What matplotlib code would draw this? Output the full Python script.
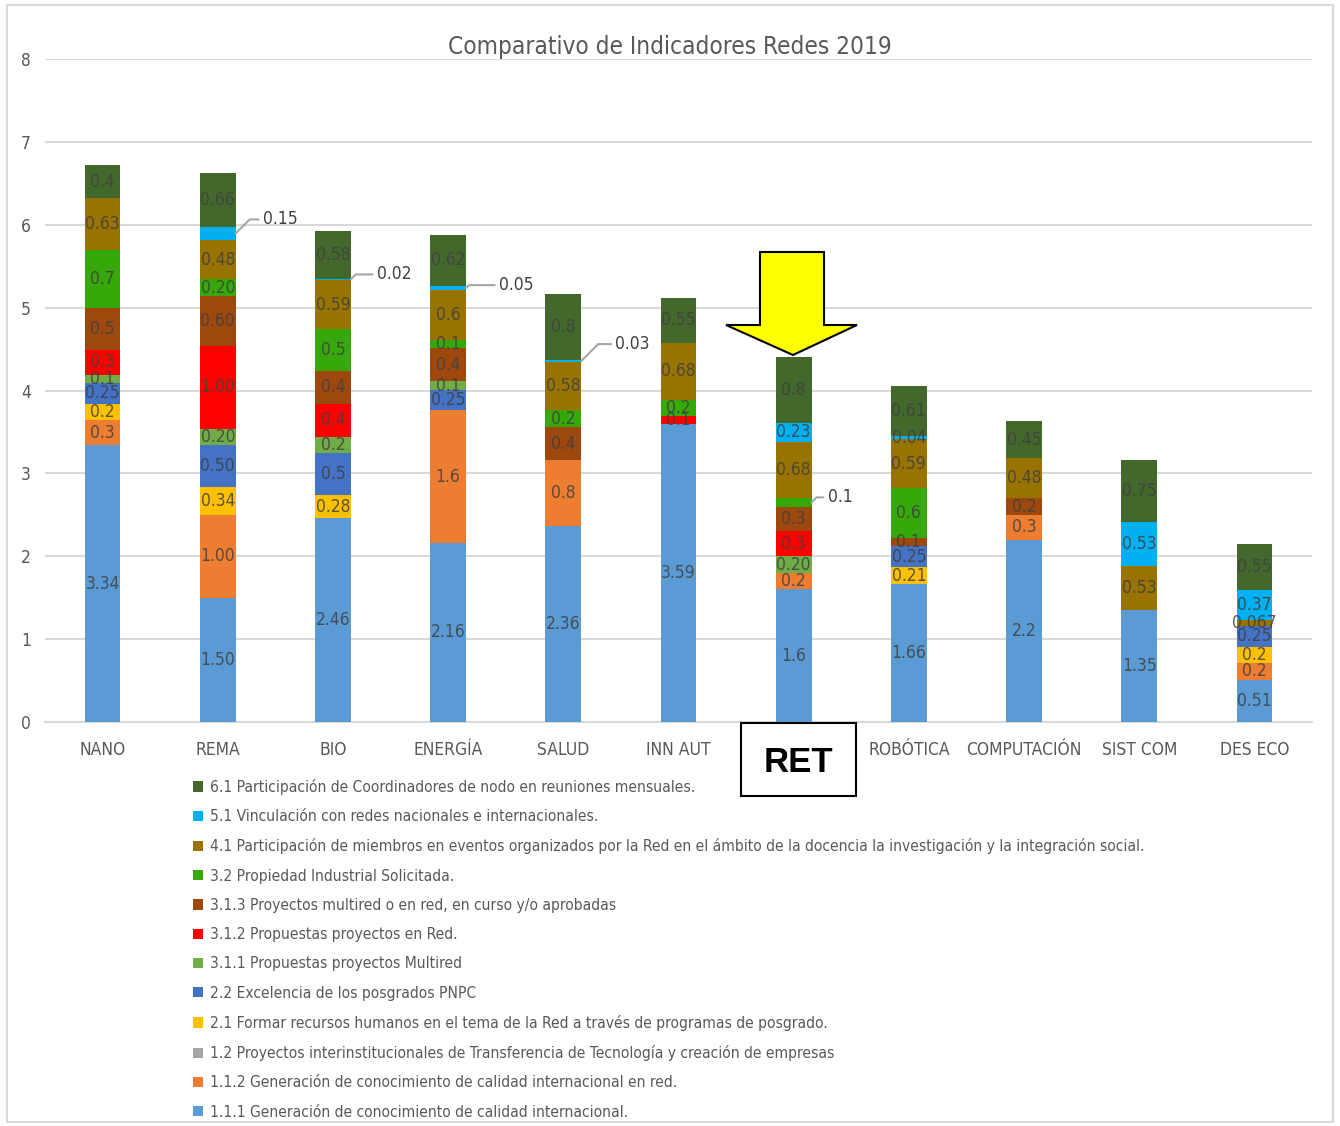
import matplotlib
matplotlib.use("Agg")
import matplotlib.pyplot as plt
from matplotlib.patches import Rectangle, Polygon
import numpy as np

plt.rcParams["font.family"] = ["DejaVu Sans"]
plt.rcParams["font.stretch"] = "condensed"

categories = ["NANO", "REMA", "BIO", "ENERGÍA", "SALUD", "INN AUT", "RET",
              "ROBÓTICA", "COMPUTACIÓN", "SIST COM", "DES ECO"]

series_names = [
    "1.1.1 Generación de conocimiento de calidad internacional.",
    "1.1.2 Generación de conocimiento de calidad internacional en red.",
    "1.2 Proyectos interinstitucionales de Transferencia de Tecnología y creación de empresas",
    "2.1 Formar recursos humanos en el tema de la Red a través de programas de posgrado.",
    "2.2 Excelencia de los posgrados PNPC",
    "3.1.1 Propuestas proyectos Multired",
    "3.1.2 Propuestas proyectos en Red.",
    "3.1.3 Proyectos multired o en red, en curso y/o aprobadas",
    "3.2 Propiedad Industrial Solicitada.",
    "4.1 Participación de miembros en eventos organizados por la Red en el ámbito de la docencia la investigación y la integración social.",
    "5.1 Vinculación con redes nacionales e internacionales.",
    "6.1 Participación de Coordinadores de nodo en reuniones mensuales.",
]

#                 NANO  REMA  BIO   ENER  SALUD INN   RET   ROBO  COMP  SIST  DES
s111 = [3.34, 1.50, 2.46, 2.16, 2.36, 3.59, 1.6, 1.66, 2.2, 1.35, 0.51]
s112 = [0.3, 1.00, 0, 1.6, 0.8, 0, 0.2, 0, 0.3, 0, 0.2]
s12 = [0, 0, 0, 0, 0, 0, 0, 0, 0, 0, 0]
s21 = [0.2, 0.34, 0.28, 0, 0, 0, 0, 0.21, 0, 0, 0.2]
s22 = [0.25, 0.50, 0.5, 0.25, 0, 0, 0, 0.25, 0, 0, 0.25]
s311 = [0.1, 0.20, 0.2, 0.1, 0, 0, 0.20, 0, 0, 0, 0]
s312 = [0.3, 1.00, 0.4, 0, 0, 0.1, 0.3, 0, 0, 0, 0]
s313 = [0.5, 0.60, 0.4, 0.4, 0.4, 0, 0.3, 0.1, 0.2, 0, 0]
s32 = [0.7, 0.20, 0.5, 0.1, 0.2, 0.2, 0.1, 0.6, 0, 0, 0]
s41 = [0.63, 0.48, 0.59, 0.6, 0.58, 0.68, 0.68, 0.59, 0.48, 0.53, 0.067]
s51 = [0, 0.15, 0.02, 0.05, 0.03, 0, 0.23, 0.04, 0, 0.53, 0.37]
s61 = [0.4, 0.66, 0.58, 0.62, 0.8, 0.55, 0.8, 0.61, 0.45, 0.75, 0.55]

data = [s111, s112, s12, s21, s22, s311, s312, s313, s32, s41, s51, s61]
colors = ["#5B9BD5", "#ED7D31", "#A5A5A5", "#FFC000", "#4472C4", "#70AD47",
          "#FF0000", "#9E480E", "#36A80A", "#997300", "#00B0F0", "#43682B"]

# labels placed outside with a leader line: (category, series index) -> pixel offset
callouts = {(1, 10): (27, 14), (2, 10): (26, 5), (3, 10): (33, 3),
            (4, 10): (34, 17), (6, 8): (16, 5)}

W, H = 1340, 1126
fig = plt.figure(figsize=(W / 100, H / 100), dpi=100)
ax = fig.add_axes([45 / W, 1 - 722 / H, (1312 - 45) / W, (722 - 59) / H])

x = np.arange(len(categories))
width = 0.31
bottom = np.zeros(len(categories))
handles = []
for k, (vals, col) in enumerate(zip(data, colors)):
    vals = np.array(vals, dtype=float)
    bars = ax.bar(x, vals, width, bottom=bottom, color=col, zorder=3)
    handles.append(bars)
    for i, v in enumerate(vals):
        if v == 0:
            continue
        if categories[i] == "REMA" or (categories[i] == "RET" and k == 5):
            txt = f"{v:.2f}"
        else:
            txt = f"{v:g}"
        mid = bottom[i] + v / 2
        if (i, k) in callouts:
            dx, dy = callouts[(i, k)]
            ax.annotate(txt, xy=(x[i] + width / 2, mid), xytext=(dx, dy),
                        textcoords="offset pixels", ha="left", va="center",
                        fontsize=12.5, color="#404040", zorder=5,
                        arrowprops=dict(arrowstyle="-", color="#A6A6A6", lw=1.5,
                                        shrinkA=1, shrinkB=0,
                                        connectionstyle="angle,angleA=0,angleB=45"))
        else:
            ax.text(x[i], mid, txt, ha="center", va="center", fontsize=12.5,
                    color="#404040", alpha=0.85, zorder=4)
    bottom += vals

ax.set_xlim(-0.5, len(categories) - 0.5)
ax.set_ylim(0, 8)
ax.set_yticks(range(0, 9))
ax.set_xticks(x)
ax.set_xticklabels(categories)
ax.tick_params(length=0, labelsize=12.5, colors="#595959")
ax.tick_params(axis="y", pad=10)
ax.tick_params(axis="x", pad=14)
ax.grid(axis="y", color="#D9D9D9", lw=1.5, zorder=0)
for s in ["top", "right", "left"]:
    ax.spines[s].set_visible(False)
ax.spines["bottom"].set_color("#D9D9D9")
ax.spines["bottom"].set_linewidth(1.5)

fig.text(670 / W, 1 - 47 / H, "Comparativo de Indicadores Redes 2019",
         ha="center", va="center", fontsize=17.5, color="#595959")

leg = fig.legend(handles[::-1], series_names[::-1], loc="upper left",
                 bbox_to_anchor=(193 / W, 1 - 779 / H), frameon=False,
                 fontsize=11.15, labelcolor="#595959", handlelength=0.65,
                 handleheight=0.65, handletextpad=0.45, labelspacing=0.92,
                 borderpad=0, borderaxespad=0)

# outer chart border
fig.patches.append(Rectangle((7 / W, 4 / H), 1326 / W, 1117 / H, transform=fig.transFigure,
                             fill=False, edgecolor="#D9D9D9", lw=1.5))

# yellow arrow pointing at RET
pts = [(760, 252), (824, 252), (824, 325), (857, 325), (793, 355), (726, 325), (760, 325)]
fig.patches.append(Polygon([(px / W, 1 - py / H) for px, py in pts], closed=True,
                           transform=fig.transFigure, facecolor="#FFFF00",
                           edgecolor="black", lw=1.5, zorder=6))

# RET highlight box
fig.patches.append(Rectangle((741 / W, 1 - 796 / H), 115 / W, 73 / H, transform=fig.transFigure,
                             facecolor="white", edgecolor="black", lw=1.5, zorder=6))
fig.text(798 / W, 1 - 762 / H, "RET", ha="center", va="center", fontsize=25,
         fontweight="bold", family=["Liberation Sans", "DejaVu Sans"],
         fontstretch="normal", zorder=7)

fig.savefig("out.png", dpi=100)
